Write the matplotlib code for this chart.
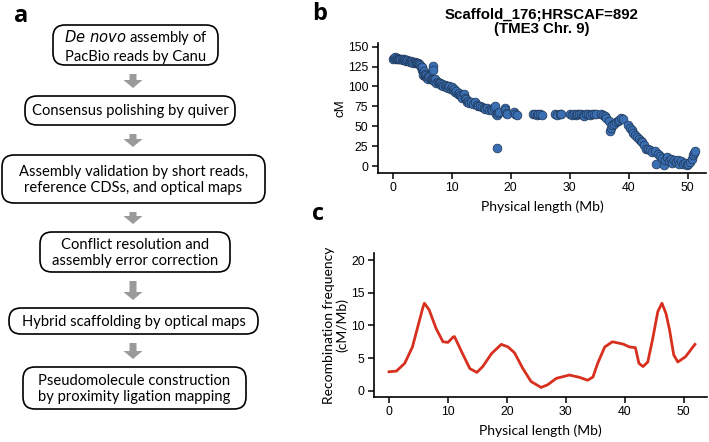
import matplotlib
matplotlib.use("Agg")
import matplotlib.pyplot as plt
from matplotlib.patches import FancyBboxPatch, FancyArrow

# ---------------- data ----------------
flow_steps = [
    "$\\it{De\\ novo}$ assembly of\nPacBio reads by Canu",
    "Consensus polishing by quiver",
    "Assembly validation by short reads,\nreference CDSs, and optical maps",
    "Conflict resolution and\nassembly error correction",
    "Hybrid scaffolding by optical maps",
    "Pseudomolecule construction\nby proximity ligation mapping",
]

scaffold_pos_mb = [
    0.0, 0.2, 0.4, 0.5, 0.7, 0.9, 1.1, 1.3, 1.5, 1.7, 1.9, 2.1, 2.3, 2.5, 2.7, 2.9, 3.1, 3.3, 3.5, 3.7, 3.9, 4.1, 4.3, 4.5,
    4.7, 4.8, 4.9, 5.0, 5.1, 5.2, 5.3, 5.4, 5.5, 5.6, 5.7, 5.8, 5.9, 6.0, 6.2, 6.4, 6.6, 6.8, 6.85,
    6.8, 7.0, 7.2, 7.4, 7.6, 7.8, 8.0, 8.2, 8.4, 8.6, 8.8, 9.0, 9.2, 9.4, 9.6, 9.8, 10.0,
    10.2, 10.4, 10.6, 10.8, 11.0, 11.2, 11.4, 11.6, 11.8, 12.0, 12.2, 12.4,
    12.6, 12.8, 13.0, 13.3, 13.6, 13.9, 14.2, 14.5, 14.8, 15.1, 15.4, 15.7, 16.0, 16.3, 16.6, 16.9, 17.2,
    17.4, 17.5, 17.6, 17.7, 17.9, 18.0, 19.0, 19.1, 19.2, 19.3, 20.6, 20.8, 21.0,
    23.8, 24.1, 24.4, 24.7, 25.0, 25.3, 27.5, 27.9, 28.3, 28.6,
    30.1, 30.4, 30.7, 31.0, 31.3, 31.6, 31.9, 32.2, 32.5, 32.8, 33.1, 33.5, 33.8, 34.1, 34.4,
    35.3, 35.6, 35.9, 36.2,
    36.6, 36.8, 37.0, 37.2, 37.5, 37.8, 38.1, 38.4, 38.7, 39.0,
    39.9, 40.2, 40.5, 40.8, 41.1, 41.4, 41.7, 42.0, 42.3, 42.6, 42.9,
    43.2, 43.6, 44.0, 44.4, 44.7, 45.0, 45.3, 45.6, 45.9, 46.2, 46.5, 46.8, 47.1, 47.4, 47.7, 48.0, 48.3, 48.6, 48.9, 49.2,
    49.5, 49.8, 50.1, 50.4, 50.7, 50.9, 51.1, 51.3,
]
scaffold_cm = [
    135, 136, 137, 135, 136, 135, 134, 135, 134, 133, 134, 133, 132, 133, 132, 131, 132, 131, 130, 131, 130, 129, 130, 128,
    127, 124, 121, 125, 118, 115, 120, 113, 116, 112, 114, 111, 113, 110, 112, 109, 110, 126, 121,
    108, 107, 109, 105, 106, 104, 105, 102, 103, 101, 102, 99, 100, 98, 101, 97, 99,
    95, 97, 93, 94, 91, 92, 89, 88, 86, 91, 85, 84,
    80, 82, 79, 81, 78, 80, 77, 76, 75, 74, 73, 72, 73, 71, 72, 70, 73,
    75, 66, 64, 23, 67, 68, 73, 70, 67, 65, 68, 65, 64,
    65, 65, 64, 65, 65, 64, 65, 64, 65, 65,
    65, 64, 65, 64, 66, 65, 65, 64, 63, 65, 65, 64, 65, 66, 65,
    65, 64, 63, 60,
    57, 44, 48, 51, 53, 55, 56, 58, 60, 59,
    51, 48, 45, 42, 39, 37, 34, 32, 30, 27, 22,
    22, 20, 18, 19, 2, 15, 13, 10, 1, 8, 11, 6, 9, 4, 7, 5, 8, 3, 6, 2,
    4, 1, 3, 5, 9, 14, 17, 19,
]

recomb_pos_mb = [0.0, 1.25, 2.66, 3.97, 5.76, 6.0, 6.8, 8.0, 9.15, 10.0, 10.85, 11.1, 12.3, 13.7, 14.9, 15.9,
                 17.4, 19.05, 20.2, 21.3, 22.7, 24.1, 25.8, 26.9, 28.4, 30.6, 32.3, 33.7, 34.6, 35.4,
                 36.6, 37.9, 39.7, 40.8, 41.8, 42.4, 43.1, 43.9, 44.7, 45.6, 46.3, 47.0, 47.6, 48.3,
                 49.0, 50.3, 51.9]
recomb_rate = [2.9, 3.0, 4.2, 6.7, 12.8, 13.4, 12.4, 9.5, 7.5, 7.4, 8.2, 8.3, 6.0, 3.4, 2.8, 3.7,
               5.7, 7.1, 6.7, 5.8, 3.4, 1.4, 0.5, 0.9, 1.9, 2.4, 2.05, 1.6, 2.1, 4.2,
               6.7, 7.5, 7.15, 6.7, 6.6, 4.2, 3.7, 4.4, 7.8, 12.1, 13.4, 11.8, 9.3, 5.5,
               4.4, 5.2, 7.1]

b_title = "Scaffold_176;HRSCAF=892\n(TME3 Chr. 9)"
x_label = "Physical length (Mb)"
b_ylabel = "cM"
c_ylabel = "Recombination frequency\n(cM/Mb)"
b_yticks = [0, 25, 50, 75, 100, 125, 150]
c_yticks = [0, 5, 10, 15, 20]
x_ticks = [0, 10, 20, 30, 40, 50]

# ---------------- figure ----------------
W, H = 709, 442
fig = plt.figure(figsize=(W / 100, H / 100), dpi=100)

TICK_FONT = "Liberation Sans"
LABEL_FONT = "Lato"

# ---- panel a: flowchart drawn in pixel coordinates ----
axa = fig.add_axes([0, 0, 1, 1])
axa.set_xlim(0, W)
axa.set_ylim(H, 0)
axa.axis("off")

boxes = [  # (x0, y0, x1, y1)
    (53, 25, 218, 65),
    (25, 96, 235, 125),
    (2, 155, 265, 203),
    (40, 232, 230, 272),
    (9, 308, 258, 334),
    (23, 367, 246, 409),
]
for (x0, y0, x1, y1), txt in zip(boxes, flow_steps):
    r = min(12, (y1 - y0) / 2)
    p = FancyBboxPatch((x0, y0), x1 - x0, y1 - y0,
                       boxstyle=f"round,pad=0,rounding_size={r}",
                       fc="white", ec="black", lw=1.2)
    axa.add_patch(p)
    axa.text((x0 + x1) / 2, (y0 + y1) / 2 + 1, txt, ha="center", va="center",
             fontsize=10.6, family=LABEL_FONT, linespacing=1.2)

for i in range(len(boxes) - 1):
    ya = boxes[i][3] + 9
    yb = boxes[i + 1][1] - 8
    axa.add_patch(FancyArrow(133, ya, 0, yb - ya, width=7, head_width=19,
                             head_length=8, length_includes_head=True,
                             fc="#9a9a9a", ec="none"))

axa.text(14, 4, "a", fontsize=17, fontweight="bold", family="Open Sans", va="top")
axa.text(312, 2, "b", fontsize=17, fontweight="bold", family="Open Sans", va="top")
axa.text(312, 202, "c", fontsize=17, fontweight="bold", family="Open Sans", va="top")


def style_axis(ax):
    for s in ("top", "right"):
        ax.spines[s].set_visible(False)
    for s in ("left", "bottom"):
        ax.spines[s].set_linewidth(1.2)
    ax.tick_params(length=4, width=1.1, labelsize=8.8, pad=3)
    for lab in ax.get_xticklabels() + ax.get_yticklabels():
        lab.set_family(TICK_FONT)


# ---- panel b ----
axb = fig.add_axes([378 / W, 1 - 172.7 / H, 328 / W, (172.7 - 43) / H])
axb.scatter(scaffold_pos_mb, scaffold_cm, s=40, c="#3b6fb3", edgecolors="#1d3553",
            linewidths=0.5, zorder=3)
axb.set_xlim(-2.5, 53.1)
axb.set_ylim(-8.4, 154.7)
axb.set_xticks(x_ticks)
axb.set_yticks(b_yticks)
style_axis(axb)
axb.set_xlabel(x_label, family=LABEL_FONT, fontsize=10, labelpad=4)
axb.set_ylabel(b_ylabel, family=TICK_FONT, fontsize=9.5, labelpad=1)
axb.set_title(b_title, family=TICK_FONT, fontweight="bold", fontsize=10.8, pad=7,
              linespacing=1.05)

# ---- panel c ----
axc = fig.add_axes([374.3 / W, 1 - 396.7 / H, 333 / W, (396.7 - 253) / H])
axc.plot(recomb_pos_mb, recomb_rate, color="#d7301f", lw=2.0, solid_joinstyle="round")
axc.set_xlim(-2.5, 54.0)
axc.set_ylim(-0.92, 21.1)
axc.set_xticks(x_ticks)
axc.set_yticks(c_yticks)
style_axis(axc)
axc.set_xlabel(x_label, family=LABEL_FONT, fontsize=10, labelpad=4)
axc.set_ylabel(c_ylabel, family=LABEL_FONT, fontsize=10, labelpad=2, linespacing=1.05)

fig.savefig("out.png", dpi=100)
